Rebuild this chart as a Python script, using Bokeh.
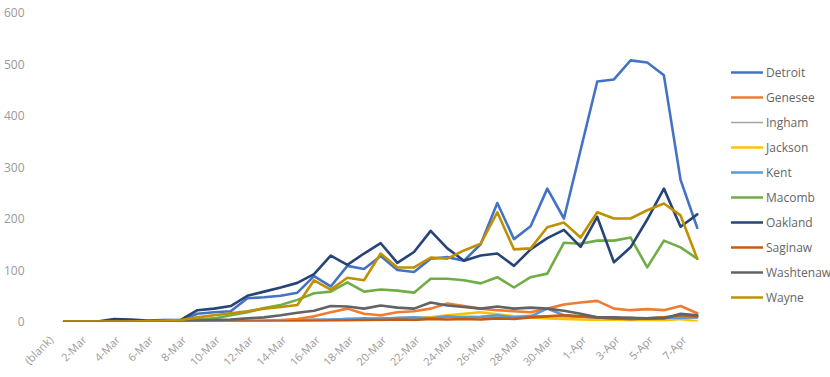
from bokeh.plotting import figure
from bokeh.models import Range1d, FixedTicker, Legend, LegendItem
from bokeh.embed import file_html
from bokeh.resources import INLINE
import math

# Category labels: a blank bucket followed by daily dates
categories = ["(blank)"] + [f"{d}-Mar" for d in range(1, 32)] + [f"{d}-Apr" for d in range(1, 8)]

detroit = [0, 0, 0, 0, 0, 0, 1, 2, 15, 18, 20, 45, 47, 50, 56, 88, 68, 108, 102, 127,
           100, 96, 122, 125, 118, 150, 230, 160, 185, 258, 200, 333, 466, 470, 507, 503, 478, 275, 182]
genesee = [0, 0, 0, 0, 0, 0, 0, 0, 0, 0, 0, 1, 2, 3, 5, 10, 18, 25, 15, 12,
           18, 20, 25, 35, 30, 25, 22, 20, 18, 25, 33, 37, 40, 25, 22, 24, 22, 30, 16]
ingham = [0, 0, 0, 0, 0, 0, 0, 0, 0, 0, 1, 2, 2, 3, 3, 5, 4, 6, 5, 8,
          6, 7, 9, 8, 10, 9, 8, 10, 12, 10, 9, 8, 7, 6, 8, 5, 7, 8, 6]
jackson = [0, 0, 0, 0, 0, 0, 0, 0, 0, 0, 0, 0, 1, 1, 2, 2, 1, 3, 2, 4,
           3, 5, 8, 12, 15, 18, 14, 10, 8, 6, 5, 4, 3, 4, 2, 3, 2, 5, 0]
kent = [0, 0, 0, 0, 0, 0, 0, 0, 0, 0, 0, 0, 1, 2, 2, 3, 4, 5, 6, 5,
        7, 8, 6, 10, 8, 9, 12, 8, 10, 25, 12, 10, 8, 6, 5, 6, 8, 7, 9]
macomb = [0, 0, 0, 0, 0, 0, 1, 2, 4, 6, 12, 18, 26, 32, 42, 55, 58, 76, 58, 62,
          60, 56, 83, 83, 80, 74, 86, 66, 86, 93, 153, 151, 157, 157, 163, 105, 157, 144, 122]
oakland = [0, 0, 0, 5, 4, 2, 3, 3, 22, 25, 30, 50, 58, 66, 75, 92, 128, 110, 132, 152,
           114, 135, 176, 142, 118, 128, 132, 108, 140, 162, 178, 145, 203, 115, 144, 198, 258, 184, 208]
saginaw = [0, 0, 0, 0, 0, 0, 0, 0, 0, 0, 0, 0, 0, 0, 1, 1, 2, 2, 3, 3,
           4, 3, 5, 4, 5, 4, 6, 5, 8, 10, 12, 10, 8, 6, 5, 6, 8, 12, 10]
washtenaw = [0, 0, 0, 0, 0, 0, 0, 1, 2, 3, 4, 6, 8, 12, 17, 21, 30, 29, 25, 31,
             27, 25, 37, 31, 28, 25, 29, 25, 27, 25, 21, 15, 8, 8, 7, 6, 6, 15, 12]
wayne = [0, 0, 0, 0, 0, 1, 2, 3, 8, 12, 16, 20, 25, 28, 32, 80, 62, 85, 80, 132,
         105, 105, 124, 122, 138, 151, 212, 140, 142, 183, 192, 163, 212, 200, 200, 216, 229, 206, 122]

series_names = ["Detroit", "Genesee", "Ingham", "Jackson", "Kent",
                "Macomb", "Oakland", "Saginaw", "Washtenaw", "Wayne"]
series_values = [detroit, genesee, ingham, jackson, kent,
                 macomb, oakland, saginaw, washtenaw, wayne]
series_colors = ["#4472C4", "#ED7D31", "#A5A5A5", "#FFC000", "#5B9BD5",
                 "#70AD47", "#264478", "#C55A11", "#636363", "#BF9000"]
series_widths = [2.6, 2.6, 1.6, 2.6, 2.6, 2.6, 2.6, 2.6, 2.6, 2.6]

FONT = "Open Sans"
TEXT = "#9a9a9a"

n = len(categories)
xs = list(range(n))

# The frame runs to the right edge so the legend can sit beside the lines;
# the extra x span past the last category stays empty.
p = figure(width=830, height=377, output_backend="svg", toolbar_location=None,
           x_range=Range1d(-1.0, n + 7.0), y_range=Range1d(0, 600),
           min_border_left=46, min_border_right=0, min_border_top=12, min_border_bottom=56)
p.outline_line_color = None
p.background_fill_color = "white"
p.border_fill_color = "white"
p.xgrid.grid_line_color = None
p.ygrid.grid_line_color = None

# y axis: plain labels, no line or ticks
p.yaxis.ticker = FixedTicker(ticks=[0, 100, 200, 300, 400, 500, 600])
p.yaxis.axis_line_color = None
p.yaxis.major_tick_line_color = None
p.yaxis.minor_tick_line_color = None
p.yaxis.major_label_standoff = 17
p.yaxis.major_label_text_font = FONT
p.yaxis.major_label_text_font_size = "12px"
p.yaxis.major_label_text_color = TEXT

# x axis: every other category label, rotated; the label anchors sit a little
# left of each category so the slanted text ends just under its point
LABEL_SHIFT = 0.8
label_ticks = [i - LABEL_SHIFT for i in range(0, n, 2)]
p.xaxis.ticker = FixedTicker(ticks=label_ticks)
p.xaxis.major_label_overrides = {t: categories[i] for t, i in zip(label_ticks, range(0, n, 2))}
p.xaxis.major_label_orientation = math.pi / 4
p.xaxis.axis_line_color = None
p.xaxis.major_tick_line_color = None
p.xaxis.minor_tick_line_color = None
p.xaxis.major_label_standoff = 10
p.xaxis.major_label_text_font = FONT
p.xaxis.major_label_text_font_size = "11px"
p.xaxis.major_label_text_color = TEXT

items = []
for name, vals, color, lw in zip(series_names, series_values, series_colors, series_widths):
    r = p.line(xs, vals, line_color=color, line_width=lw, line_join="round", line_cap="round")
    items.append(LegendItem(label=name, renderers=[r]))

legend = Legend(items=items, location=(684, 14), orientation="vertical",
                glyph_width=32, glyph_height=20, label_height=20, spacing=5,
                label_standoff=3, padding=0, margin=0,
                border_line_color=None, background_fill_alpha=0,
                label_text_font=FONT, label_text_font_size="12px",
                label_text_color="#666666")
p.add_layout(legend, "center")

open("out.html", "w").write(file_html(p, INLINE))
